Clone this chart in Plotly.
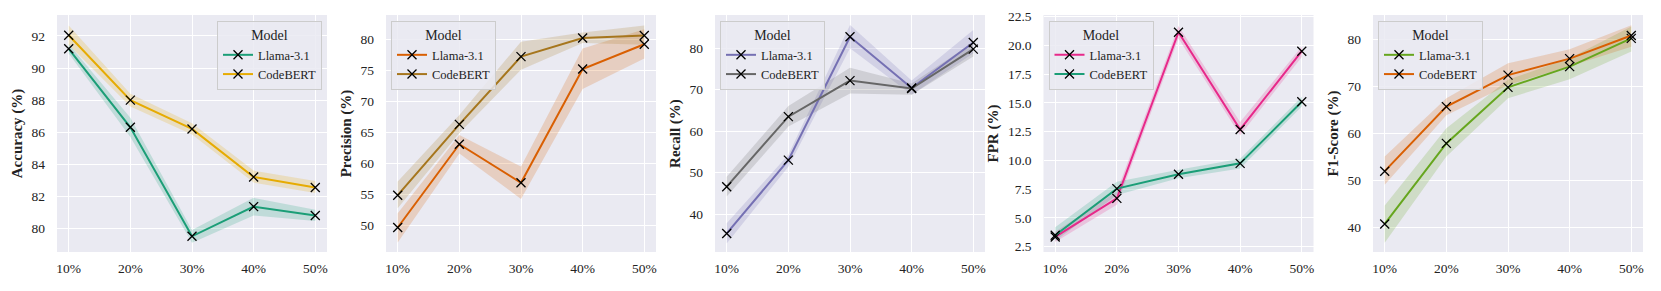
import plotly.graph_objects as go

categories = ["10%", "20%", "30%", "40%", "50%"]
models = ["Llama-3.1", "CodeBERT"]

# Accuracy
acc_llama = [91.2, 86.3, 79.5, 81.35, 80.8]
acc_llama_lo = [90.9, 85.7, 79.1, 80.8, 80.45]
acc_llama_hi = [91.5, 86.9, 79.9, 81.9, 81.15]
acc_codebert = [92.05, 88.0, 86.2, 83.2, 82.55]
acc_codebert_lo = [91.45, 87.6, 85.85, 82.85, 82.2]
acc_codebert_hi = [92.65, 88.4, 86.55, 83.6, 82.95]

# Precision
prec_llama = [49.7, 63.1, 56.9, 75.2, 79.2]
prec_llama_lo = [47.3, 61.6, 54.3, 72.0, 76.9]
prec_llama_hi = [52.0, 64.6, 59.5, 78.5, 81.6]
prec_codebert = [54.9, 66.3, 77.2, 80.2, 80.6]
prec_codebert_lo = [52.8, 64.9, 75.1, 79.4, 79.1]
prec_codebert_hi = [57.1, 67.8, 79.6, 81.1, 82.2]

# Recall
rec_llama = [35.3, 53.0, 82.8, 70.4, 81.4]
rec_llama_lo = [32.9, 51.4, 80.0, 68.8, 78.8]
rec_llama_hi = [37.8, 54.3, 85.6, 72.2, 84.4]
rec_codebert = [46.6, 63.5, 72.2, 70.3, 79.8]
rec_codebert_lo = [44.2, 61.1, 69.1, 68.8, 78.0]
rec_codebert_hi = [49.0, 66.1, 75.3, 71.5, 81.4]

# FPR
fpr_llama = [3.35, 6.7, 21.15, 12.7, 19.5]
fpr_llama_lo = [2.9, 6.15, 20.6, 12.2, 19.0]
fpr_llama_hi = [3.8, 7.3, 21.7, 13.35, 19.9]
fpr_codebert = [3.5, 7.55, 8.8, 9.75, 15.1]
fpr_codebert_lo = [3.0, 7.0, 8.45, 9.3, 14.7]
fpr_codebert_hi = [4.2, 8.15, 9.2, 10.15, 15.55]

# F1-Score
f1_llama = [40.8, 57.9, 69.8, 74.2, 80.2]
f1_llama_lo = [36.8, 55.1, 67.5, 71.5, 77.4]
f1_llama_hi = [44.7, 61.1, 71.4, 76.0, 82.7]
f1_codebert = [52.0, 65.7, 72.4, 75.9, 80.8]
f1_codebert_lo = [49.1, 63.9, 70.3, 74.3, 78.4]
f1_codebert_hi = [55.1, 67.5, 74.9, 77.9, 83.0]

panels = [
    dict(title="Accuracy (%)", series=[(acc_llama, acc_llama_lo, acc_llama_hi), (acc_codebert, acc_codebert_lo, acc_codebert_hi)],
         colors=["#1b9e77", "#e6ab02"], yrange=[78.52, 93.31], dtick=2, fmt="d", legend_right=True),
    dict(title="Precision (%)", series=[(prec_llama, prec_llama_lo, prec_llama_hi), (prec_codebert, prec_codebert_lo, prec_codebert_hi)],
         colors=["#d95f02", "#a6761d"], yrange=[45.76, 83.9], dtick=5, fmt="d", legend_right=False),
    dict(title="Recall (%)", series=[(rec_llama, rec_llama_lo, rec_llama_hi), (rec_codebert, rec_codebert_lo, rec_codebert_hi)],
         colors=["#7570b3", "#666666"], yrange=[30.83, 88.04], dtick=10, fmt="d", legend_right=False),
    dict(title="FPR (%)", series=[(fpr_llama, fpr_llama_lo, fpr_llama_hi), (fpr_codebert, fpr_codebert_lo, fpr_codebert_hi)],
         colors=["#e7298a", "#1b9e77"], yrange=[2.04, 22.65], dtick=2.5, fmt=".1f", legend_right=False),
    dict(title="F1-Score (%)", series=[(f1_llama, f1_llama_lo, f1_llama_hi), (f1_codebert, f1_codebert_lo, f1_codebert_hi)],
         colors=["#66a61e", "#d95f02"], yrange=[34.84, 85.16], dtick=10, fmt="d", legend_right=False),
]

W, H = 1661, 291
plot_left = [57, 386, 715, 1043.5, 1373]
plot_w = 270
top_px, bot_px = 15, 252

FONT = "Liberation Serif, Times New Roman, serif"

def rgba(hex_color, a):
    h = hex_color.lstrip("#")
    r, g, b = int(h[0:2], 16), int(h[2:4], 16), int(h[4:6], 16)
    return f"rgba({r},{g},{b},{a})"

fig = go.Figure()
xidx = list(range(len(categories)))
layout = {}

for i, p in enumerate(panels):
    n = "" if i == 0 else str(i + 1)
    xa, ya = "x" + n, "y" + n
    leg = "legend" + n
    for (vals, lo, hi), col, name in zip(p["series"], p["colors"], models):
        fig.add_trace(go.Scatter(
            x=xidx + xidx[::-1], y=hi + lo[::-1], fill="toself",
            fillcolor=rgba(col, 0.2), line=dict(width=0), mode="lines",
            hoverinfo="skip", showlegend=False, xaxis=xa, yaxis=ya))
    for (vals, lo, hi), col, name in zip(p["series"], p["colors"], models):
        fig.add_trace(go.Scatter(
            x=xidx, y=vals, mode="lines+markers", name=name,
            line=dict(color=col, width=2),
            marker=dict(symbol="x-thin", size=9, color="black",
                        line=dict(color="black", width=1.3)),
            xaxis=xa, yaxis=ya, legend=leg))
    x0 = plot_left[i] / W
    x1 = (plot_left[i] + plot_w) / W
    layout["xaxis" + n] = dict(
        domain=[x0, x1], anchor=ya, range=[-0.19, 4.19], automargin=False,
        tickmode="array", tickvals=xidx, ticktext=categories,
        showgrid=True, gridcolor="white", gridwidth=1.2, zeroline=False,
        showline=False, ticks="", ticklabelstandoff=6,
        tickfont=dict(family=FONT, size=13.5, color="#222"))
    layout["yaxis" + n] = dict(
        domain=[1 - bot_px / H, 1 - top_px / H], anchor=xa, range=p["yrange"], automargin=False,
        dtick=p["dtick"], tick0=0, tickformat=p["fmt"],
        showgrid=True, gridcolor="white", gridwidth=1.2, zeroline=False,
        showline=False, ticks="", ticklabelstandoff=11,
        tickfont=dict(family=FONT, size=13.5, color="#222"),
        title=dict(text=p["title"], font=dict(family=FONT, size=15, color="#222", weight="bold"), standoff=5))
    if p["legend_right"]:
        lx, lxa = (plot_left[i] + plot_w - 5) / W, "right"
    else:
        lx, lxa = (plot_left[i] + 5) / W, "left"
    layout[leg] = dict(
        x=lx, xanchor=lxa, y=1 - 21 / H, yanchor="top",
        bgcolor="rgba(234,234,242,0.85)", bordercolor="#cccccc", borderwidth=1,
        font=dict(family=FONT, size=12.5, color="#222"),
        title=dict(text="Model", side="top center", font=dict(family=FONT, size=14, color="#222")),
        tracegroupgap=0, itemwidth=30)

fig.update_layout(
    width=W, height=H, margin=dict(l=0, r=0, t=0, b=0, pad=0), autosize=False,
    font=dict(family=FONT, color="#222"),
    paper_bgcolor="white", plot_bgcolor="#eaeaf2",
    **layout)

fig.write_html("out.html", config={"displayModeBar": False},
               post_script="document.body.style.margin='0';document.body.style.overflow='hidden';")
